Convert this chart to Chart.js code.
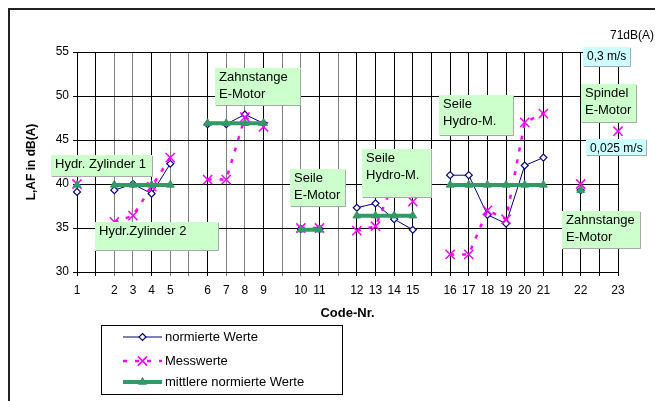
<!DOCTYPE html>
<html>
<head>
<meta charset="utf-8">
<script src="https://cdn.jsdelivr.net/npm/chart.js@4.4.1/dist/chart.umd.min.js"></script>
<style>
  html, body { margin: 0; padding: 0; background: #fff; }
  canvas { display: block; }
</style>
</head>
<body>
<canvas id="noiseChart" width="655" height="401"></canvas>
<script>
// Code numbers on the x axis (empty strings are the spacer columns)
const codes = ["1", "", "2", "3", "4", "5", "", "6", "7", "8", "9", "", "10", "11", "",
  "12", "13", "14", "15", "", "16", "17", "18", "19", "20", "21", "", "22", "", "23"];

// L,AF in dB(A)
const normierteWerte = [39.1, null, 39.3, 40.0, 38.9, 42.3, null, 46.8, 46.8, 47.9, 46.9, null,
  34.9, 34.9, null, 37.3, 37.8, 36.0, 34.8, null, 41.0, 41.0, 36.5, 35.5, 42.1, 43.0, null, 39.3, null, null];
const messwerte = [40.0, null, 35.7, 36.4, 39.7, 43.0, null, 40.5, 40.5, 47.6, 46.5, null,
  35.0, 35.0, null, 34.7, 35.2, 40.3, 38.0, null, 32.0, 32.0, 37.0, 36.0, 47.0, 48.0, null, 40.0, null, 46.0];
const mittlereWerte = [39.9, null, 39.9, 39.9, 39.9, 39.9, null, 46.9, 46.9, 46.9, 46.9, null,
  34.8, 34.8, null, 36.4, 36.4, 36.4, 36.4, null, 39.9, 39.9, 39.9, 39.9, 39.9, 39.9, null, 39.3, null, null];

const yTicks = [30, 35, 40, 45, 50, 55];

const FONT = "'Liberation Sans', Arial, sans-serif";
const NAVY = "#000080";
const PINK = "#FF00FF";
const GREEN = "#339966";

// text boxes placed on the chart (left, top, width, height in px)
const notes = [
  { lines: ["Hydr. Zylinder 1"], box: [51, 155, 102, 22], fill: "#CCFFCC", size: 13 },
  { lines: ["Hydr.Zylinder 2"], box: [95, 222, 124, 29], fill: "#CCFFCC", size: 13 },
  { lines: ["Zahnstange", "E-Motor"], box: [215, 68, 86, 38], fill: "#CCFFCC", size: 13 },
  { lines: ["Seile", "E-Motor"], box: [290, 169, 56, 38], fill: "#CCFFCC", size: 13 },
  { lines: ["Seile", "Hydro-M."], box: [362, 149, 70, 49], fill: "#CCFFCC", size: 13 },
  { lines: ["Seile", "Hydro-M."], box: [439, 95, 75, 41], fill: "#CCFFCC", size: 13 },
  { lines: ["Spindel", "E-Motor"], box: [581, 84, 56, 39], fill: "#CCFFCC", size: 13 },
  { lines: ["Zahnstange", "E-Motor"], box: [562, 211, 79, 38], fill: "#CCFFCC", size: 13 },
  { lines: ["0,3 m/s"], box: [583, 47, 48, 20], fill: "#CCFFFF", size: 12 },
  { lines: ["0,025 m/s"], box: [586, 139, 61, 17], fill: "#CCFFFF", size: 12 },
  { lines: ["71dB(A)"], box: [606, 26, 0, 0], fill: null, size: 12 },
];

// grid lines that look lighter in the original (anti-aliasing)
const lightGrid = [2, 3, 5, 6, 8, 9, 11, 12, 14];

const frame = {
  id: "frame",
  beforeDraw(chart) {
    const ctx = chart.ctx;
    ctx.save();
    ctx.fillStyle = "#fff";
    ctx.fillRect(0, 0, chart.width, chart.height);
    ctx.strokeStyle = "#222";
    ctx.lineWidth = 2;
    ctx.strokeRect(9, 9, 660, 420);
    ctx.restore();
  },
};

const textBoxes = {
  id: "textBoxes",
  afterDatasetsDraw(chart) {
    const ctx = chart.ctx;
    ctx.save();
    notes.forEach((n) => {
      const [x, y, w, h] = n.box;
      if (n.fill) {
        ctx.fillStyle = n.fill;
        ctx.fillRect(x, y, w, h);
        ctx.strokeStyle = "#a8a8a8";
        ctx.lineWidth = 1;
        ctx.beginPath();
        ctx.moveTo(x + w - 0.5, y + 1);
        ctx.lineTo(x + w - 0.5, y + h - 0.5);
        ctx.lineTo(x + 1, y + h - 0.5);
        ctx.stroke();
      }
      ctx.fillStyle = "#000";
      ctx.font = n.size + "px " + FONT;
      ctx.textBaseline = "middle";
      ctx.textAlign = "left";
      n.lines.forEach((t, i) => ctx.fillText(t, x + 4, y + 9.5 + i * 16.5));
    });
    ctx.restore();
  },
};

const boxLegend = {
  id: "boxLegend",
  afterDraw(chart) {
    const ctx = chart.ctx;
    ctx.save();
    ctx.strokeStyle = "#000";
    ctx.lineWidth = 1;
    ctx.strokeRect(101.5, 325.5, 241, 69);

    const x0 = 123, x1 = 162, xm = 142.5;
    const rows = [337, 361, 382];
    chart.data.datasets.forEach((ds, i) => {
      const y = rows[i];
      ctx.strokeStyle = ds.borderColor;
      ctx.lineWidth = ds.borderWidth;
      ctx.setLineDash(ds.borderDash || []);
      ctx.beginPath();
      ctx.moveTo(x0, y);
      ctx.lineTo(x1, y);
      ctx.stroke();
      ctx.setLineDash([]);

      ctx.lineWidth = ds.pointBorderWidth;
      ctx.strokeStyle = ds.pointBorderColor;
      ctx.fillStyle = ds.pointBackgroundColor;
      const r = ds.pointRadius;
      ctx.beginPath();
      if (ds.pointStyle === "rectRot") {
        ctx.moveTo(xm, y - r); ctx.lineTo(xm + r, y); ctx.lineTo(xm, y + r); ctx.lineTo(xm - r, y);
        ctx.closePath(); ctx.fill(); ctx.stroke();
      } else if (ds.pointStyle === "crossRot") {
        const d = r * 0.707;
        ctx.moveTo(xm - d, y - d); ctx.lineTo(xm + d, y + d);
        ctx.moveTo(xm + d, y - d); ctx.lineTo(xm - d, y + d);
        ctx.stroke();
      } else {
        ctx.moveTo(xm, y - r); ctx.lineTo(xm + r * 0.87, y + r * 0.5); ctx.lineTo(xm - r * 0.87, y + r * 0.5);
        ctx.closePath(); ctx.fill(); ctx.stroke();
      }

      ctx.fillStyle = "#000";
      ctx.font = "13px " + FONT;
      ctx.textBaseline = "middle";
      ctx.fillText(ds.label, 165, y);
    });
    ctx.restore();
  },
};

new Chart(document.getElementById("noiseChart"), {
  type: "line",
  data: {
    labels: codes,
    datasets: [
      {
        label: "normierte Werte",
        data: normierteWerte,
        borderColor: NAVY,
        borderWidth: 1,
        pointStyle: "rectRot",
        pointRadius: 3.5,
        pointBorderWidth: 1.2,
        pointBorderColor: NAVY,
        pointBackgroundColor: "#fff",
        order: 3,
      },
      {
        label: "Messwerte",
        data: messwerte,
        borderColor: PINK,
        borderWidth: 2.5,
        borderDash: [4, 8],
        pointStyle: "crossRot",
        pointRadius: 6.5,
        pointBorderWidth: 1.5,
        pointBorderColor: PINK,
        pointBackgroundColor: PINK,
        order: 2,
      },
      {
        label: "mittlere normierte Werte",
        data: mittlereWerte,
        borderColor: GREEN,
        borderWidth: 4,
        pointStyle: "triangle",
        pointRadius: 4.5,
        pointBorderWidth: 1,
        pointBorderColor: GREEN,
        pointBackgroundColor: GREEN,
        order: 1,
      },
    ],
  },
  options: {
    responsive: false,
    animation: false,
    spanGaps: false,
    layout: { padding: { left: 18, right: 37, top: 52, bottom: 79 } },
    plugins: {
      legend: { display: false },
      tooltip: { enabled: false },
    },
    scales: {
      x: {
        type: "category",
        offset: false,
        afterFit: (s) => { s.height = 50; },
        grid: {
          offset: false,
          color: (c) => (lightGrid.includes(c.index) ? "#7f7f7f" : "#000"),
          lineWidth: 1,
          tickLength: 4,
        },
        border: { color: "#000", width: 1 },
        ticks: {
          autoSkip: false,
          maxRotation: 0,
          padding: 7,
          color: "#000",
          font: { family: FONT, size: 12 },
        },
        title: {
          display: true,
          text: "Code-Nr.",
          color: "#000",
          font: { family: FONT, size: 13, weight: "bold" },
          padding: { top: 0, bottom: 1 },
        },
      },
      y: {
        min: 30,
        max: 55,
        afterFit: (s) => { s.width = 59; },
        afterBuildTicks: (s) => { s.ticks = yTicks.map((v) => ({ value: v })); },
        grid: { color: "#000", lineWidth: 1, tickLength: 4 },
        border: { color: "#000", width: 1 },
        ticks: {
          padding: 4,
          color: "#000",
          font: { family: FONT, size: 12 },
        },
        title: {
          display: true,
          text: "L,AF in dB(A)",
          color: "#000",
          font: { family: FONT, size: 12, weight: "bold" },
          padding: { top: 6, bottom: 0 },
        },
      },
    },
  },
  plugins: [frame, textBoxes, boxLegend],
});
</script>
</body>
</html>
